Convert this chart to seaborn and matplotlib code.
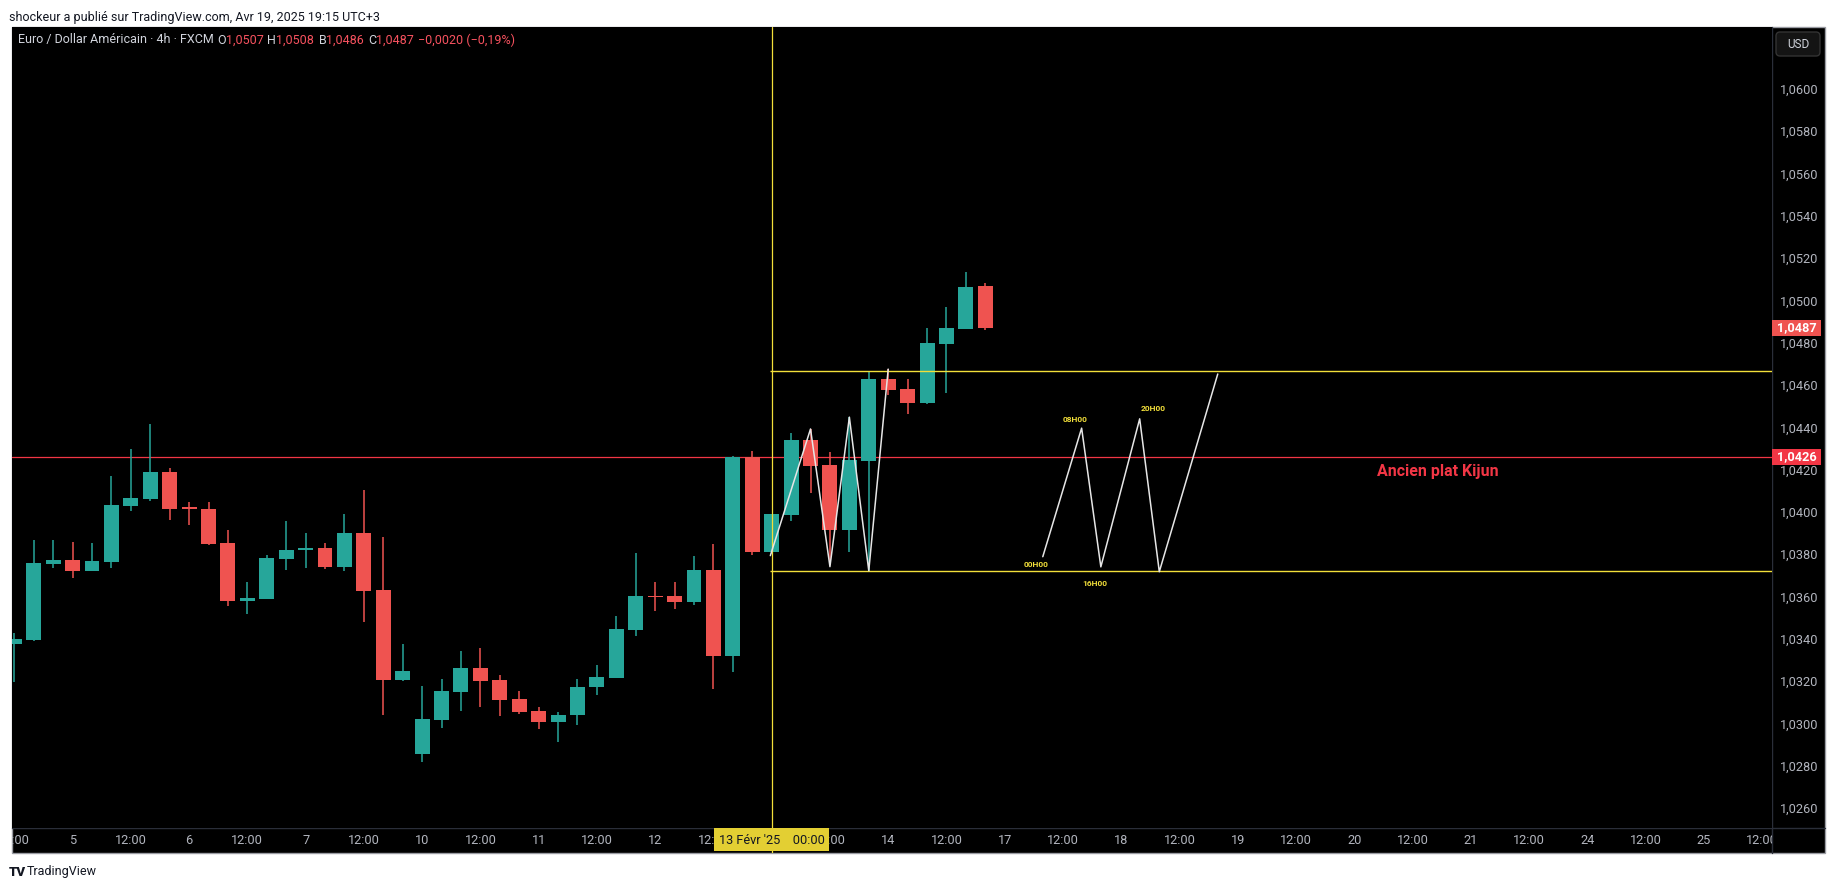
import matplotlib
matplotlib.use("Agg")
import matplotlib.pyplot as plt
import matplotlib.transforms as mtransforms
from matplotlib.patches import Rectangle, FancyBboxPatch
import numpy as np
import pandas as pd
import seaborn as sns

# EUR/USD 4h candles, first bar = 4 Feb 12:00
opens = [1.03377, 1.03394, 1.03755, 1.03773, 1.03722, 1.03765, 1.04030, 1.04063, 1.04189, 1.04018,
         1.04014, 1.03853, 1.03580, 1.03590, 1.03779, 1.03818, 1.03830, 1.03741, 1.03900, 1.03630,
         1.03207, 1.02857, 1.03018, 1.03150, 1.03262, 1.03205, 1.03115, 1.03058, 1.03008, 1.03040,
         1.03170, 1.03216, 1.03443, 1.03603, 1.03600, 1.03576, 1.03725, 1.03320, 1.04260, 1.03812,
         1.03986, 1.04340, 1.04222, 1.03916, 1.04242, 1.04629, 1.04581, 1.04517, 1.04796, 1.04867,
         1.05070]
highs = [1.03429, 1.03867, 1.03867, 1.03858, 1.03853, 1.04170, 1.04298, 1.04416, 1.04208, 1.04047,
         1.04047, 1.03915, 1.03669, 1.03796, 1.03957, 1.03900, 1.03853, 1.03990, 1.04104, 1.03882,
         1.03376, 1.03177, 1.03210, 1.03342, 1.03357, 1.03229, 1.03153, 1.03078, 1.03054, 1.03210,
         1.03276, 1.03508, 1.03806, 1.03669, 1.03669, 1.03792, 1.03848, 1.04265, 1.04288, 1.03990,
         1.04373, 1.04392, 1.04283, 1.04448, 1.04666, 1.04675, 1.04629, 1.04870, 1.04969, 1.05135,
         1.05080]
lows = [1.03197, 1.03390, 1.03736, 1.03689, 1.03720, 1.03736, 1.04006, 1.04053, 1.03963, 1.03938,
        1.03844, 1.03555, 1.03519, 1.03590, 1.03727, 1.03736, 1.03732, 1.03722, 1.03481, 1.03041,
        1.03202, 1.02819, 1.02980, 1.03060, 1.03079, 1.03036, 1.03046, 1.02975, 1.02913, 1.02994,
        1.03136, 1.03212, 1.03415, 1.03533, 1.03542, 1.03561, 1.03164, 1.03245, 1.03798, 1.03800,
        1.03957, 1.04090, 1.03750, 1.03812, 1.03722, 1.04554, 1.04465, 1.04512, 1.04564, 1.04867,
        1.04860]
closes = [1.03399, 1.03759, 1.03773, 1.03722, 1.03768, 1.04033, 1.04066, 1.04189, 1.04015, 1.04015,
          1.03848, 1.03579, 1.03593, 1.03782, 1.03820, 1.03830, 1.03741, 1.03900, 1.03628, 1.03207,
          1.03248, 1.03021, 1.03153, 1.03262, 1.03202, 1.03112, 1.03055, 1.03008, 1.03040, 1.03172,
          1.03220, 1.03446, 1.03603, 1.03598, 1.03576, 1.03725, 1.03320, 1.04260, 1.03812, 1.03990,
          1.04340, 1.04217, 1.03916, 1.04246, 1.04629, 1.04578, 1.04517, 1.04799, 1.04870, 1.05064,
          1.04870]

# trading days shown on the time scale (6 bars of 4h per day)
day_labels = ["4", "5", "6", "7", "10", "11", "12", "13", "14", "17", "18", "19", "20", "21", "24", "25", "26"]
first_bar_offset = 3  # first bar is the 12:00 bar of the first day

price_ticks = [1.0260, 1.0280, 1.0300, 1.0320, 1.0340, 1.0360, 1.0380, 1.0400, 1.0420,
               1.0440, 1.0460, 1.0480, 1.0500, 1.0520, 1.0540, 1.0560, 1.0580, 1.0600]

kijun_level = 1.0426
last_price = 1.0487
range_high = 1.04666
range_low = 1.03719
crosshair_bar = 39
crosshair_label = "13 Févr '25    00:00"

# drawn zigzags (bar index, price)
zz1_x = [38.93, 41, 42, 43, 44, 45]
zz1_y = [1.03793, 1.04392, 1.03741, 1.04448, 1.03722, 1.04675]
zz2_x = [52.96, 54.96, 55.95, 57.95, 58.96, 61.97]
zz2_y = [1.03788, 1.04396, 1.03740, 1.04440, 1.03717, 1.04652]
zz_labels = ["00H00", "08H00", "16H00", "20H00"]
zz_label_x = [52.61, 54.62, 55.65, 58.65]
zz_label_y = [1.03752, 1.04435, 1.03663, 1.04490]

GREEN = "#26a69a"
RED = "#ef5350"
YELLOW = "#f2df3a"
AXTXT = "#b2b5be"

sns.set_theme(style="dark")
plt.rcParams['font.family'] = ['Roboto', 'DejaVu Sans']

W, H = 1835, 890
fig = plt.figure(figsize=(W / 100, H / 100), dpi=100, facecolor="white")


def fx(px):
    return px / W


def fy(py):
    return 1 - py / H


# background / frame in pixel space
ov = fig.add_axes([0, 0, 1, 1], zorder=0)
ov.set_xlim(0, W)
ov.set_ylim(H, 0)
ov.axis("off")
ov.add_patch(Rectangle((11.7, 27), 1825 - 11.7, 853 - 27, facecolor="black", edgecolor="#9a9ca3", lw=1))
ov.plot([1772, 1772], [27, 853], color="#2a2e39", lw=1)
ov.plot([11.7, 1825], [828, 828], color="#2a2e39", lw=1)
ov.add_patch(FancyBboxPatch((1776, 32), 44, 24, boxstyle="round,pad=0,rounding_size=4",
                            facecolor="#141414", edgecolor="#333333", lw=1))
ov.text(1798, 44.5, "USD", color="#d1d4dc", fontsize=8.5, ha="center", va="center")

# main price pane
left, right_px, top, bottom = 11.7, 1772, 27, 828
ax = fig.add_axes([fx(left), fy(bottom), fx(right_px - left), (bottom - top) / H], zorder=1)
ax.set_facecolor("black")
for s in ax.spines.values():
    s.set_visible(False)
ax.grid(False)

bar_px = 19.42
x0_px = 14.3
xmin = (left - x0_px) / bar_px
xmax = xmin + (right_px - left) / bar_px
ax.set_xlim(xmin, xmax)
ax.set_ylim(1.02505, 1.06293)

df = pd.DataFrame({"open": opens, "high": highs, "low": lows, "close": closes})
df["x"] = np.arange(len(df))
df["color"] = np.where(df["close"] >= df["open"], GREEN, RED)
body_lo = df[["open", "close"]].min(axis=1)
body_h = (df["close"] - df["open"]).abs().clip(lower=0.00006)

ax.vlines(df["x"], df["low"], df["high"], colors=df["color"], lw=1.1, zorder=3)
ax.bar(df["x"], body_h, bottom=body_lo, width=0.77, color=df["color"], zorder=4, linewidth=0)

# levels
ax.axhline(kijun_level, color="#f23645", lw=0.9, zorder=2)
ax.hlines([range_high, range_low], crosshair_bar - 0.07, xmax, colors=YELLOW, lw=1.0, zorder=5)
ax.axvline(crosshair_bar, color=YELLOW, lw=0.9, zorder=5)

# zigzags
for zx, zy in [(zz1_x, zz1_y), (zz2_x, zz2_y)]:
    sns.lineplot(x=zx, y=zy, sort=False, estimator=None, color="#e6e6e6", lw=1.1, ax=ax, zorder=6)
for lab, lx, ly in zip(zz_labels, zz_label_x, zz_label_y):
    ax.text(lx, ly, lab, color=YELLOW, fontsize=6, fontweight="bold", ha="center", va="center", zorder=7)

ax.text(70.15, 1.0419, "Ancien plat Kijun", color="#f23645", fontsize=11.5, fontweight="semibold",
        ha="left", va="center", zorder=7)

# price scale
ax.yaxis.tick_right()
ax.set_yticks(price_ticks)
ax.set_yticklabels([f"{v:.4f}".replace(".", ",") for v in price_ticks])
ax.tick_params(axis="y", length=0, pad=6, labelcolor=AXTXT, labelsize=9.2)
ax.tick_params(axis="x", bottom=False, labelbottom=False)
ax.set_xlabel("")
ax.set_ylabel("")

# price badges
bt = mtransforms.blended_transform_factory(ax.transAxes, ax.transData)
badge_w = 49 / (right_px - left)
badge_h = 16 / ((bottom - top) / (1.06293 - 1.02505))
for lvl, col in [(last_price, "#ef5350"), (kijun_level, "#f23645")]:
    ax.add_patch(Rectangle((1.0, lvl - badge_h / 2), badge_w, badge_h, transform=bt,
                           facecolor=col, edgecolor="none", clip_on=False, zorder=10))
    ax.text(1.0 + badge_w / 2, lvl, f"{lvl:.4f}".replace(".", ","), transform=bt, color="white",
            fontsize=9.2, fontweight="bold", ha="center", va="center", clip_on=False, zorder=11)

# time scale
axb = fig.add_axes([fx(left), fy(853), fx(right_px - left), 25 / H], sharex=ax, zorder=1)
axb.set_facecolor("none")
for s in axb.spines.values():
    s.set_visible(False)
axb.grid(False)
axb.set_ylim(0, 1)
axb.tick_params(left=False, bottom=False, labelleft=False, labelbottom=False)
for i in range(0, int(xmax) + 2, 3):
    if i == crosshair_bar:
        continue  # hidden under the crosshair date label
    t = i + first_bar_offset
    lab = day_labels[t // 6] if t % 6 == 0 else "12:00"
    axb.text(i, 0.48, lab, color=AXTXT, fontsize=9.2, ha="center", va="center", clip_on=True)
axb.axvline(crosshair_bar, color=YELLOW, lw=0.9)
axb.add_patch(Rectangle((crosshair_bar - 57.6 / bar_px, 0.08), 115.2 / bar_px, 0.96,
                        facecolor="#e3cf33", edgecolor="none", zorder=5))
axb.text(crosshair_bar, 0.48, crosshair_label, color="#131722", fontsize=9.2,
         ha="center", va="center", zorder=6)

# header / footer
fig.text(fx(9), fy(17), "shockeur a publié sur TradingView.com, Avr 19, 2025 19:15 UTC+3",
         color="#131722", fontsize=9, ha="left", va="center")
legend_parts = [(18, "Euro / Dollar Américain · 4h · FXCM", "#d1d4dc"),
                (217.6, "O", "#d1d4dc"), (226, "1,0507", "#f7525f"),
                (267.4, "H", "#d1d4dc"), (276, "1,0508", "#f7525f"),
                (318.8, "B", "#d1d4dc"), (326, "1,0486", "#f7525f"),
                (368.6, "C", "#d1d4dc"), (376, "1,0487", "#f7525f"),
                (418, "−0,0020 (−0,19%)", "#f7525f")]
for px, txt, col in legend_parts:
    fig.text(fx(px), fy(40), txt, color=col, fontsize=9, ha="left", va="center", zorder=20)

fig.text(fx(9), fy(872), "TV", color="#131722", fontsize=9.5, fontweight="black", ha="left", va="center")
fig.text(fx(27), fy(872), "TradingView", color="#131722", fontsize=9, ha="left", va="center")

fig.savefig("out.png", dpi=100, facecolor="white")
